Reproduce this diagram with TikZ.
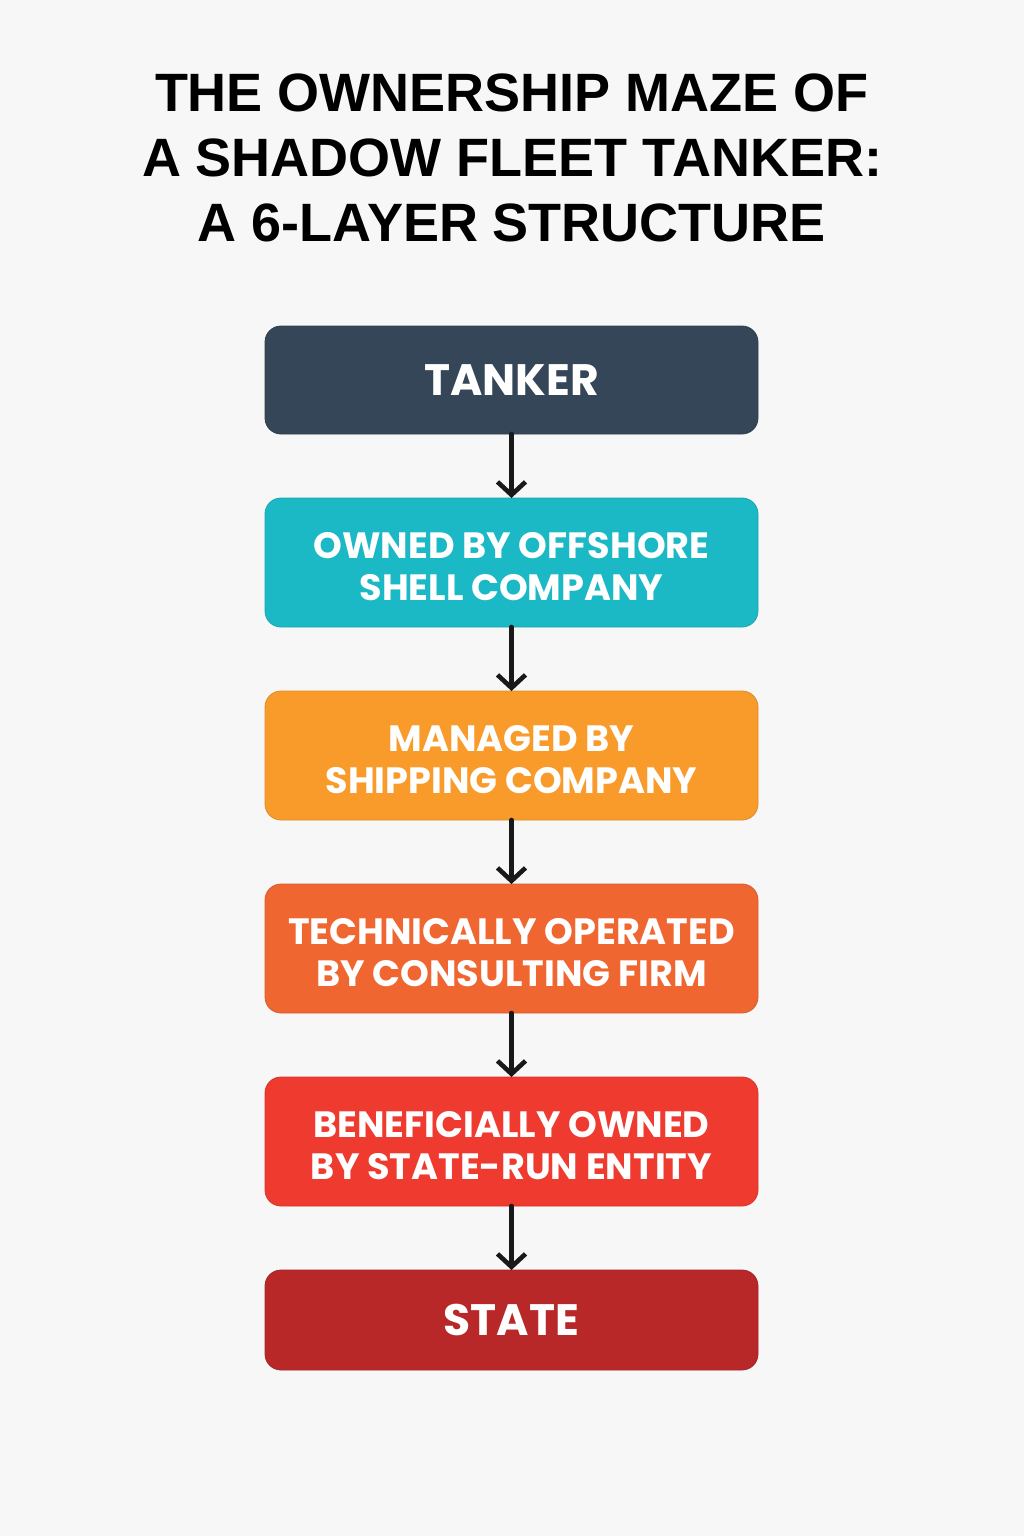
\documentclass[tikz,border=0pt]{standalone}
\usepackage{fontspec}
\usepackage{tikz}
\usetikzlibrary{positioning, arrows.meta}
\newfontfamily\titlefont{Liberation Sans}
\newfontfamily\boxfont{Poppins}
\definecolor{fond}{RGB}{247,247,247}
\definecolor{ardoise}{RGB}{52,70,87}
\definecolor{cyan1}{RGB}{27,184,197}
\definecolor{orange1}{RGB}{249,155,43}
\definecolor{orange2}{RGB}{240,102,48}
\definecolor{rouge1}{RGB}{239,58,48}
\definecolor{rouge2}{RGB}{185,40,41}
\tikzstyle{layer}=[rectangle, rounded corners=8pt, fill=#1, draw=#1!90!black, line width=0.4pt, outer sep=0pt, minimum width=246.5pt, minimum height=64.5pt, text=white, align=center, text height=38pt, font=\boxfont\bfseries\fontsize{18.3}{21}\selectfont]
\tikzstyle{single}=[text height=, minimum height=54pt, font=\boxfont\bfseries\fontsize{22}{24}\selectfont]
\tikzstyle{wire}=[line width=2.3pt, black!90, line cap=round, -{Straight Barb[length=6.5pt, width=14pt, line width=2.3pt]}]

\begin{document}
\begin{tikzpicture}[x=0.5pt, y=-0.5pt, node distance=32pt]
                % Fond
                \fill[fond] (0,0) rectangle (1024,1536);
                \useasboundingbox (0,0) rectangle (1024,1536);
                \node[font=\titlefont\bfseries\fontsize{27}{32.5}\selectfont, align=center] (titre) at (512,158) {THE OWNERSHIP MAZE OF\\A SHADOW FLEET TANKER:\\A 6-LAYER STRUCTURE};

                % Couches
                \node[layer=ardoise, single] (tanker) at (511.5,380) {TANKER};
                \node[layer=cyan1, below=of tanker] (shell) {OWNED BY OFFSHORE\\SHELL COMPANY};
                \node[layer=orange1, below=of shell] (manager) {MANAGED BY\\SHIPPING COMPANY};
                \node[layer=orange2, below=of manager] (operator) {TECHNICALLY OPERATED\\BY CONSULTING FIRM};
                \node[layer=rouge1, below=of operator] (beneficial) {BENEFICIALLY OWNED\\BY STATE-RUN ENTITY};
                \node[layer=rouge2, single, below=of beneficial, minimum height=50pt] (state) {STATE};

                % Fleches
                \draw[wire] (tanker) -- (shell);
                \draw[wire] (shell) -- (manager);
                \draw[wire] (manager) -- (operator);
                \draw[wire] (operator) -- (beneficial);
                \draw[wire] (beneficial) -- (state);
            \end{tikzpicture}
\end{document}
